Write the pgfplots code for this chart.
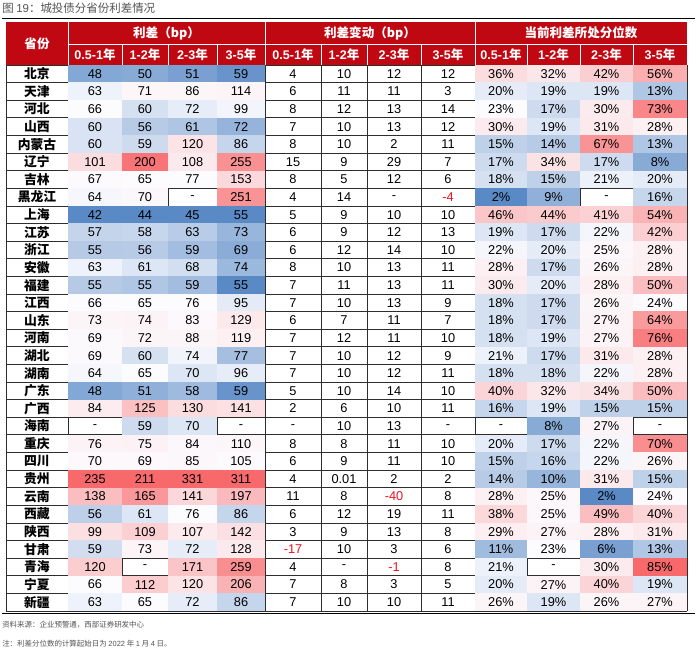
\documentclass[border=0pt]{standalone}
\usepackage{fontspec}
\setmainfont{Liberation Sans}
\newfontfamily\cjk{Noto Sans CJK SC}
\usepackage{pgfplots}
\usepackage{pgfplotstable}
\pgfplotsset{compat=1.18}
\definecolor{hdr}{RGB}{192,8,18}
\definecolor{negred}{RGB}{235,20,30}
\definecolor{gridc}{RGB}{45,45,45}
\definecolor{notec}{RGB}{85,85,85}

\pgfdeclareplotmark{cellmark}{\pgfpathrectangle{\pgfpoint{-0.5pt}{-0.5pt}}{\pgfpoint{1pt}{1pt}}\pgfusepathqfill}

\def\nanstr{nan}
\newcommand\lblA{\edef\tmpv{\pgfplotspointmeta}\ifx\tmpv\nanstr -\else\tmpv\fi}
\newcommand\lblC{\edef\tmpv{\pgfplotspointmeta}\ifx\tmpv\nanstr -\else\tmpv\%\fi}
\def\chkneg#1#2\relax{\ifx-#1\textcolor{negred}{#1#2}\else#1#2\fi}
\newcommand\lblB{\edef\tmpv{\pgfplotspointmeta}\ifx\tmpv\nanstr -\else\expandafter\chkneg\tmpv\relax\fi}
\def\ry{65+(\thisrow{r}+0.5)*17.613}

\pgfplotstableread{
r name a1 a2 a3 a4 b1 b2 b3 b4 c1 c2 c3 c4
0 北京 48 50 51 59 4 10 12 12 36 32 42 56
1 天津 63 71 86 114 6 11 11 3 20 19 19 13
2 河北 66 60 72 99 8 12 13 14 23 17 30 73
3 山西 60 56 61 72 7 10 13 12 30 19 31 28
4 内蒙古 60 59 120 86 8 10 2 11 15 14 67 13
5 辽宁 101 200 108 255 15 9 29 7 17 34 17 8
6 吉林 67 65 77 153 8 5 12 6 18 15 21 20
7 黑龙江 64 70 nan 251 4 14 nan -4 2 9 nan 16
8 上海 42 44 45 55 5 9 10 10 46 44 41 54
9 江苏 57 58 63 73 6 9 12 13 19 17 22 42
10 浙江 55 56 59 69 6 12 14 10 22 20 25 28
11 安徽 63 61 68 74 8 10 13 11 28 17 26 28
12 福建 55 55 59 55 7 11 13 11 30 20 28 50
13 江西 66 65 76 95 7 10 13 9 18 17 26 24
14 山东 73 74 83 129 6 7 11 7 18 17 27 64
15 河南 69 72 88 119 7 12 11 10 18 19 27 76
16 湖北 69 60 74 77 7 10 12 9 21 17 31 28
17 湖南 64 65 70 96 7 10 12 11 18 18 22 28
18 广东 48 51 58 59 5 10 14 10 40 32 34 50
19 广西 84 125 130 141 2 6 10 11 16 19 15 15
20 海南 nan 59 70 nan nan 10 13 nan nan 8 27 nan
21 重庆 76 75 84 110 8 8 11 10 20 17 22 70
22 四川 70 69 85 105 6 9 11 10 15 16 22 26
23 贵州 235 211 331 311 4 0.01 2 2 14 10 31 15
24 云南 138 165 141 197 11 8 -40 8 28 25 2 24
25 西藏 56 61 76 86 6 12 19 11 38 25 49 40
26 陕西 99 109 107 142 3 9 13 8 29 27 28 31
27 甘肃 59 73 72 128 -17 10 3 6 11 23 6 13
28 青海 120 nan 171 259 4 nan -1 8 21 nan 30 85
29 宁夏 66 112 120 206 7 8 3 5 20 27 40 19
30 新疆 63 65 72 86 7 10 10 11 26 19 26 27
}\data

\pgfplotsset{
  fillcell/.style n args={7}{scatter, only marks, mark=cellmark,
    mark options={xscale=#2, yscale=13.4},
    skip coords between index={#6}{#7},
    point meta={\thisrow{#1}<#4 ? (\thisrow{#1}-#3)/(#4-#3) : 1+(\thisrow{#1}-#4)/(#5-#4)}},
  labcell/.style={draw=none, mark=none, point meta=explicit symbolic,
    nodes near coords={#1},
    every node near coord/.append style={anchor=center, inner sep=0pt, font=\fontsize{9.6}{11}\selectfont, text=black}},
}

\begin{document}
\begin{tikzpicture}
\begin{axis}[
  x=0.75pt, y=0.75pt, y dir=reverse,
  xmin=0, xmax=700, ymin=0, ymax=657,
  hide axis, clip=false, unbounded coords=discard,
  colormap={rwb}{rgb255(0cm)=(90,138,198); rgb255(1cm)=(252,252,255); rgb255(2cm)=(248,105,107)},
  point meta min=0, point meta max=2,
]
\fill[white] (rel axis cs:0,0) rectangle (rel axis cs:1,1);
% title
\node[anchor=west, text=notec, font=\fontsize{8.6}{10}\selectfont, inner sep=0pt] at (axis cs:2,8) {{\cjk 图 }19{\cjk ：城投债分省份利差情况}};
\draw[black, line width=1.3pt] (axis cs:2,18.5) -- (axis cs:695,18.5);
% header
\fill[hdr] (axis cs:6,22) rectangle (axis cs:687,65);

% fills: spreads coloured column by column, percentiles over the whole block
% (last two arguments: the row with no value, which is left white)
\addplot[fillcell={a1}{40.5}{42}{65}{235}{20}{21}] table[x expr=95, y expr=\ry]{\data};
\addplot[fillcell={a2}{34.5}{44}{65}{211}{28}{29}] table[x expr=145, y expr=\ry]{\data};
\addplot[fillcell={a3}{36.75}{45}{76}{331}{7}{8}] table[x expr=192.5, y expr=\ry]{\data};
\addplot[fillcell={a4}{36}{55}{102}{311}{20}{21}] table[x expr=241, y expr=\ry]{\data};
\addplot[fillcell={c1}{39}{2}{23}{85}{20}{21}] table[x expr=501, y expr=\ry]{\data};
\addplot[fillcell={c2}{39.75}{2}{23}{85}{28}{29}] table[x expr=553.5, y expr=\ry]{\data};
\addplot[fillcell={c3}{39.75}{2}{23}{85}{7}{8}] table[x expr=606.5, y expr=\ry]{\data};
\addplot[fillcell={c4}{40.5}{2}{23}{85}{20}{21}] table[x expr=660, y expr=\ry]{\data};

% grid
\pgfplotsinvokeforeach{0,...,31}{\draw[gridc, line width=0.6pt] (axis cs:6,{65+#1*17.613}) -- (axis cs:687,{65+#1*17.613});}
\pgfplotsinvokeforeach{6,68,122,168,217,265,321,367,421,475,527,580,633,687}{\draw[gridc, line width=0.6pt] (axis cs:#1,65) -- (axis cs:#1,611);}
% header separators
\pgfplotsinvokeforeach{68,265,475}{\draw[white, line width=0.6pt] (axis cs:#1,22) -- (axis cs:#1,65);}
\pgfplotsinvokeforeach{122,168,217,321,367,421,527,580,633}{\draw[white, line width=0.6pt] (axis cs:#1,44) -- (axis cs:#1,65);}
\draw[white, line width=0.6pt] (axis cs:68,44) -- (axis cs:687,44);
\draw[black, line width=1.3pt] (axis cs:2,613.5) -- (axis cs:695,613.5);

% header text
\begin{scope}[every node/.style={text=white, font=\fontsize{9.4}{11}\selectfont\bfseries, inner sep=0pt}]
\node at (axis cs:37,43.5) {\cjk 省份};
\node at (axis cs:166.5,33) {\cjk 利差（bp）};
\node at (axis cs:370,33) {\cjk 利差变动（bp）};
\node at (axis cs:581,33) {\cjk 当前利差所处分位数};
\node at (axis cs:95,54.5) {0.5-1{\cjk 年}};
\node at (axis cs:145,54.5) {1-2{\cjk 年}};
\node at (axis cs:192.5,54.5) {2-3{\cjk 年}};
\node at (axis cs:241,54.5) {3-5{\cjk 年}};
\node at (axis cs:293,54.5) {0.5-1{\cjk 年}};
\node at (axis cs:344,54.5) {1-2{\cjk 年}};
\node at (axis cs:394,54.5) {2-3{\cjk 年}};
\node at (axis cs:448,54.5) {3-5{\cjk 年}};
\node at (axis cs:501,54.5) {0.5-1{\cjk 年}};
\node at (axis cs:553.5,54.5) {1-2{\cjk 年}};
\node at (axis cs:606.5,54.5) {2-3{\cjk 年}};
\node at (axis cs:660,54.5) {3-5{\cjk 年}};
\end{scope}

% labels
\addplot[labcell={\cjk\bfseries\pgfplotspointmeta}] table[x expr=37, y expr=\ry, meta=name]{\data};
\addplot[labcell={\lblA}] table[x expr=95, y expr=\ry, meta=a1]{\data};
\addplot[labcell={\lblA}] table[x expr=145, y expr=\ry, meta=a2]{\data};
\addplot[labcell={\lblA}] table[x expr=192.5, y expr=\ry, meta=a3]{\data};
\addplot[labcell={\lblA}] table[x expr=241, y expr=\ry, meta=a4]{\data};
\addplot[labcell={\lblB}] table[x expr=293, y expr=\ry, meta=b1]{\data};
\addplot[labcell={\lblB}] table[x expr=344, y expr=\ry, meta=b2]{\data};
\addplot[labcell={\lblB}] table[x expr=394, y expr=\ry, meta=b3]{\data};
\addplot[labcell={\lblB}] table[x expr=448, y expr=\ry, meta=b4]{\data};
\addplot[labcell={\lblC}] table[x expr=501, y expr=\ry, meta=c1]{\data};
\addplot[labcell={\lblC}] table[x expr=553.5, y expr=\ry, meta=c2]{\data};
\addplot[labcell={\lblC}] table[x expr=606.5, y expr=\ry, meta=c3]{\data};
\addplot[labcell={\lblC}] table[x expr=660, y expr=\ry, meta=c4]{\data};

% footer
\node[anchor=west, text=notec, font=\fontsize{5.6}{7}\selectfont, inner sep=0pt] at (axis cs:2,625) {\cjk 资料来源：企业预警通，西部证券研发中心};
\node[anchor=west, text=notec, font=\fontsize{5.6}{7}\selectfont, inner sep=0pt] at (axis cs:2,643.5) {{\cjk 注：利差分位数的计算起始日为 }2022{\cjk\ 年 }1{\cjk\ 月 }4{\cjk\ 日。}};
\path (rel axis cs:0,0) rectangle (rel axis cs:1,1);
\end{axis}
\end{tikzpicture}
\end{document}
